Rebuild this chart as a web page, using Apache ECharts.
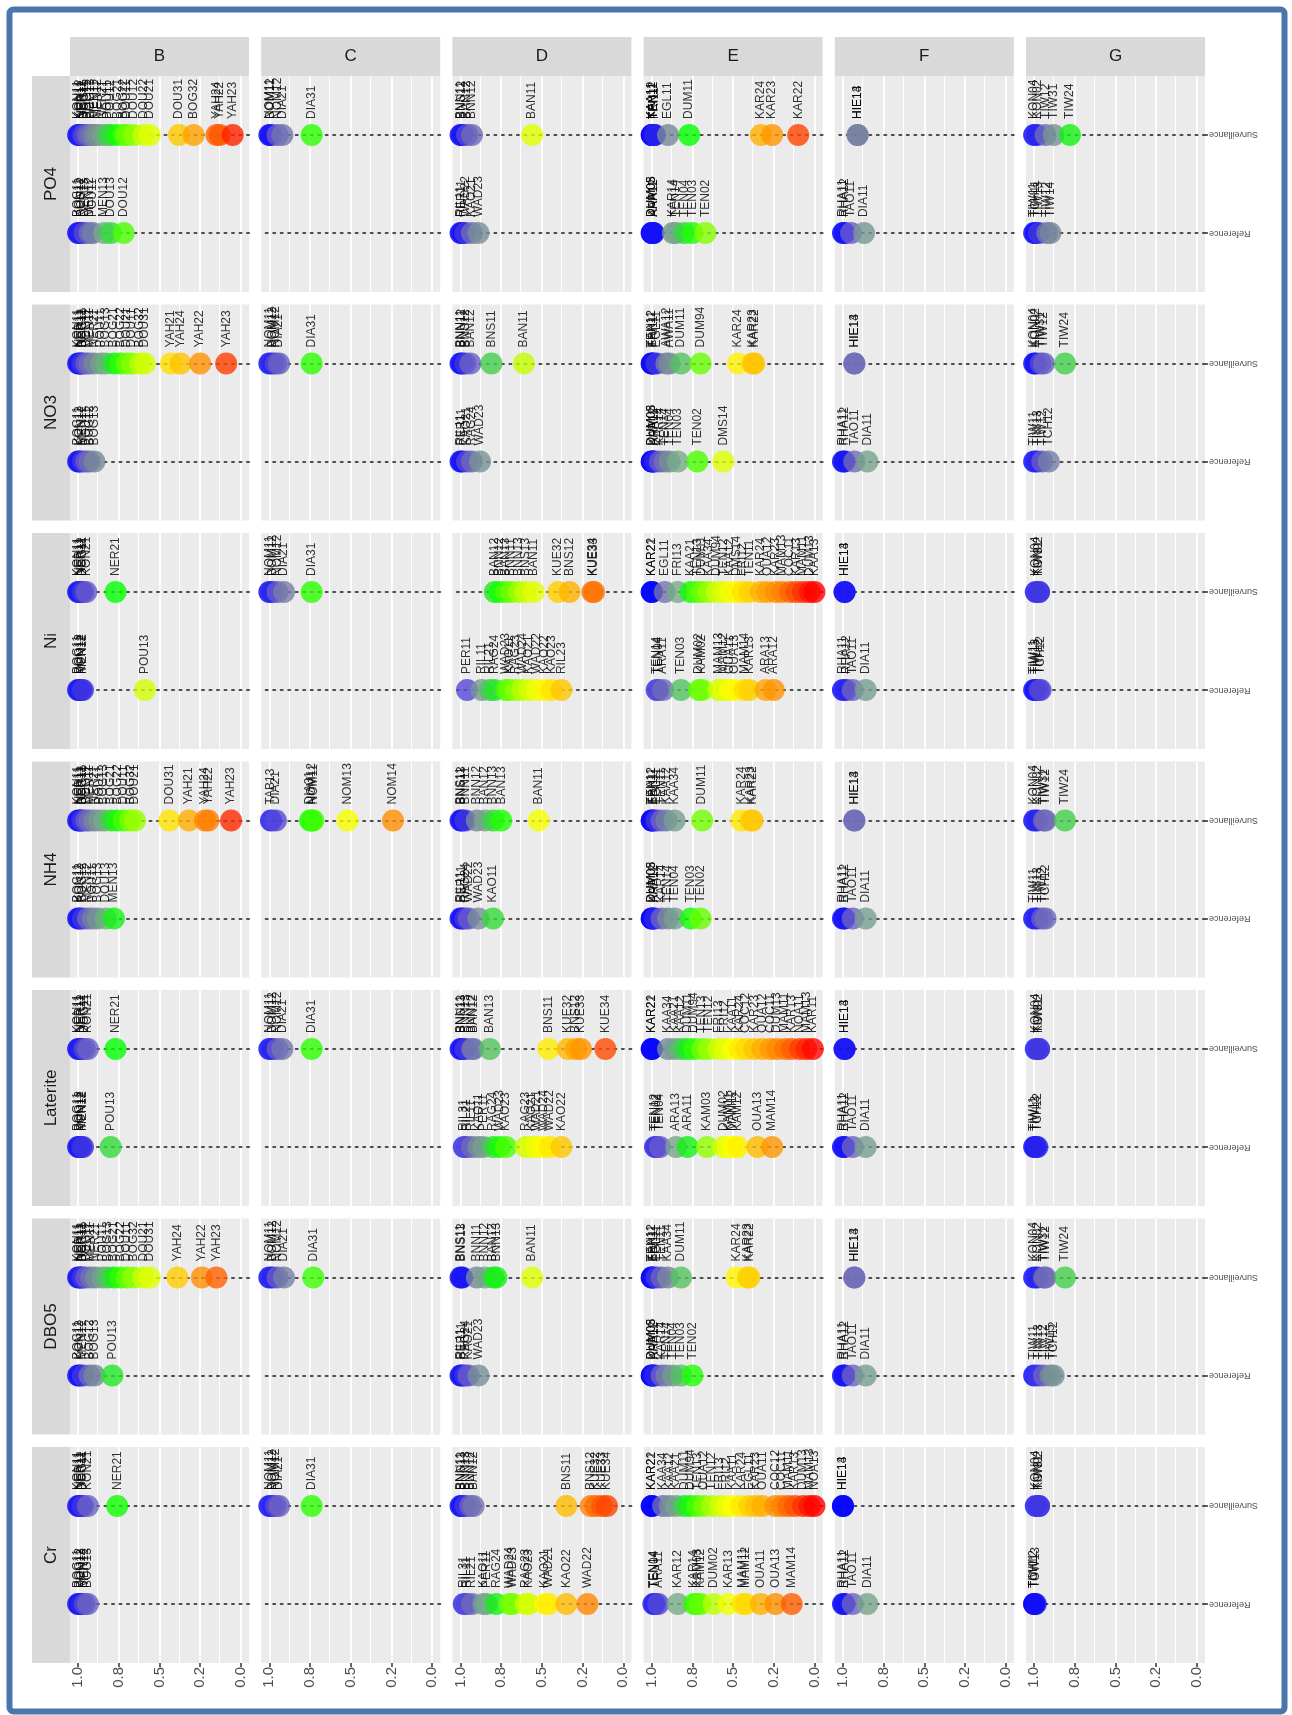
<!DOCTYPE html>
<html>
<head>
<meta charset="utf-8">
<script src="https://cdn.jsdelivr.net/npm/echarts@6/dist/echarts.min.js"></script>
<style>
html, body { margin: 0; padding: 0; background: #fff; }
#main { width: 1292px; height: 1715px; }
</style>
</head>
<body>
<div id="main"></div>
<script>
// facets
var rows = ['PO4', 'NO3', 'Ni', 'NH4', 'Laterite', 'DBO5', 'Cr'];
var cols = ['B', 'C', 'D', 'E', 'F', 'G'];
var cats = ['Reference', 'Surveillance'];
var tickValues = [0, 0.25, 0.5, 0.75, 1];
var tickLabels = ['0.0', '0.2', '0.5', '0.8', '1.0'];
var gridValues = [0, 0.125, 0.25, 0.375, 0.5, 0.625, 0.75, 0.875, 1];

// [site, score]  (_sur = Surveillance, _ref = Reference)
var PO4_B_sur = [['KON11',1.0],['KON12',0.99],['NER11',0.98],['NER12',0.97],['BOG11',0.96],['BOG12',0.94],['BOG13',0.92],['MEN11',0.90],['MEN12',0.88],['NER21',0.85],['POU11',0.82],['POU12',0.80],['BOG21',0.76],['BOG22',0.72],['DOU11',0.70],['DOU12',0.66],['DOU22',0.60],['DOU21',0.56],['DOU31',0.38],['BOG32',0.29],['YAH24',0.15],['YAH22',0.13],['YAH23',0.05]];
var PO4_B_ref = [['BOG11',1.0],['KON12',0.99],['BOG12',0.98],['NER13',0.96],['MEN12',0.93],['POU11',0.91],['MEN13',0.84],['DOU13',0.80],['DOU12',0.72]];
var PO4_C_sur = [['NOM11',1.0],['BOM12',0.99],['NOM12',0.95],['DIA21',0.92],['DIA31',0.74]];
var PO4_C_ref = [];
var PO4_D_sur = [['BNN11',1.0],['BNS12',0.99],['BAN12',0.96],['BNN12',0.93],['BAN11',0.56]];
var PO4_D_ref = [['RIL11',1.0],['PER11',0.99],['WAD22',0.97],['KAO21',0.93],['WAD23',0.89]];
var PO4_E_sur = [['KAA11',1.0],['KAA12',1.0],['TEN11',0.99],['TEN12',0.99],['FRI11',0.98],['EGL11',0.90],['DUM11',0.77],['KAR24',0.33],['KAR23',0.26],['KAR22',0.10]];
var PO4_E_ref = [['DUM03',1.0],['DUM05',1.0],['KAR12',0.99],['ARA11',0.99],['KAR14',0.87],['TEN14',0.85],['TEN04',0.80],['TEN03',0.75],['TEN02',0.67]];
var PO4_F_sur = [['HIE13',0.91],['HIE14',0.91]];
var PO4_F_ref = [['RHA11',1.0],['RHA12',0.99],['TAO11',0.95],['DIA11',0.87]];
var PO4_G_sur = [['KON04',1.0],['KON02',0.98],['TIW12',0.93],['TIW31',0.88],['TIW24',0.78]];
var PO4_G_ref = [['TIW11',1.0],['TCH11',0.99],['TIW13',0.97],['TIW12',0.92],['TIW14',0.90]];

var NO3_B_sur = [['KON11',1.0],['NER11',0.99],['NER12',0.98],['BOG11',0.97],['BOG12',0.95],['MEN11',0.93],['NER21',0.90],['POU11',0.86],['BOG13',0.83],['BOG21',0.78],['BOG22',0.74],['DOU21',0.70],['DOU11',0.67],['BOG32',0.62],['DOU31',0.59],['YAH21',0.43],['YAH24',0.37],['YAH22',0.25],['YAH23',0.09]];
var NO3_B_ref = [['BOG11',1.0],['KON12',0.99],['MEN12',0.97],['POU11',0.95],['BOG12',0.93],['BOG13',0.90]];
var NO3_C_sur = [['NOM11',1.0],['BOM12',0.98],['NOM12',0.96],['DIA21',0.94],['DIA31',0.74]];
var NO3_C_ref = [];
var NO3_D_sur = [['BNN11',1.0],['BNN12',0.99],['BNS12',0.97],['BAN12',0.94],['BNS11',0.81],['BAN11',0.61]];
var NO3_D_ref = [['RIL11',1.0],['PER11',0.99],['KAO21',0.96],['RAG24',0.93],['WAD23',0.88]];
var NO3_E_sur = [['KAA11',1.0],['TEN12',1.0],['FRI11',0.99],['EGL11',0.97],['AWA12',0.91],['AWA11',0.89],['DUM11',0.82],['DUM94',0.70],['KAR24',0.47],['KAR23',0.38],['KAR22',0.37]];
var NO3_E_ref = [['DUM03',1.0],['DUM05',1.0],['KAR12',0.99],['ARA11',0.98],['KAR14',0.95],['TEN14',0.92],['TEN04',0.89],['TEN03',0.84],['TEN02',0.72],['DMS14',0.56]];
var NO3_F_sur = [['HIE13',0.93],['HIE14',0.93]];
var NO3_F_ref = [['RHA11',1.0],['RHA12',0.99],['TAO11',0.93],['DIA11',0.85]];
var NO3_G_sur = [['KON04',1.0],['KON02',0.99],['TIW31',0.96],['TIW12',0.94],['TIW24',0.81]];
var NO3_G_ref = [['TIW11',1.0],['TIW13',0.98],['TIW12',0.95],['TCH12',0.91]];

var Ni_B_sur = [['KON11',1.0],['NER11',0.99],['NER12',0.98],['BOG11',0.97],['KON21',0.95],['NER21',0.77]];
var Ni_B_ref = [['BOG11',1.0],['BOG12',0.99],['KON12',0.98],['MEN12',0.97],['POU13',0.59]];
var Ni_C_sur = [['NOM11',1.0],['BOM12',0.98],['NOM12',0.95],['DIA21',0.91],['DIA31',0.74]];
var Ni_C_ref = [];
var Ni_D_sur = [['BAN12',0.79],['BNN12',0.76],['BAN13',0.72],['BNN11',0.69],['BNN13',0.64],['BNS13',0.60],['BAN11',0.55],['KUE32',0.40],['BNS12',0.33],['KUE34',0.19],['KUE33',0.18]];
var Ni_D_ref = [['PER11',0.96],['RIL11',0.87],['RIL21',0.82],['RAG24',0.79],['WAD23',0.72],['KAO11',0.70],['RAG23',0.66],['WAD24',0.62],['KAO21',0.58],['WAD22',0.53],['KAO22',0.48],['KAO23',0.44],['RIL23',0.38]];
var Ni_E_sur = [['KAR21',1.0],['KAR22',1.0],['EGL11',0.92],['FRI13',0.84],['KAA21',0.76],['TEN13',0.72],['DUM11',0.69],['KAA34',0.65],['DUM94',0.60],['TEN12',0.56],['KAA12',0.52],['DMS14',0.48],['FRI12',0.44],['TEN11',0.40],['KAR24',0.33],['OUA12',0.29],['KAR23',0.24],['MAM13',0.20],['COC11',0.15],['KAR13',0.11],['MAM11',0.07],['DUM13',0.03],['KAA13',0.0]];
var Ni_E_ref = [['TEN14',0.97],['TEN04',0.96],['ARA11',0.93],['TEN03',0.82],['DUM02',0.71],['KAM02',0.69],['MAM13',0.59],['MAM12',0.56],['OUA11',0.52],['OUA13',0.49],['MAM14',0.43],['KAR13',0.40],['ARA13',0.30],['ARA12',0.25]];
var Ni_F_sur = [['HIE13',0.99],['HIE14',0.99]];
var Ni_F_ref = [['RHA11',1.0],['RHA12',0.98],['TAO11',0.94],['DIA11',0.86]];
var Ni_G_sur = [['KON04',0.99],['KON02',0.97],['TIW31',0.97]];
var Ni_G_ref = [['TIW11',1.0],['TIW13',0.99],['TIW12',0.97],['TCH12',0.96]];

var NH4_B_sur = [['KON11',1.0],['NER11',0.99],['NER12',0.98],['BOG11',0.97],['BOG12',0.95],['MEN11',0.93],['NER21',0.90],['POU11',0.87],['BOG13',0.84],['BOG21',0.80],['BOG22',0.76],['DOU11',0.72],['BOG32',0.68],['DOU21',0.65],['DOU31',0.44],['YAH21',0.32],['YAH24',0.22],['YAH22',0.20],['YAH23',0.06]];
var NH4_B_ref = [['BOG11',1.0],['KON12',0.99],['BOG12',0.97],['MEN12',0.94],['POU11',0.91],['BOG13',0.88],['DOU13',0.83],['MEN13',0.78]];
var NH4_C_sur = [['TAB13',0.99],['DIA21',0.96],['DIA31',0.75],['NOM12',0.74],['NOM11',0.73],['NOM13',0.52],['NOM14',0.24]];
var NH4_C_ref = [];
var NH4_D_sur = [['BNS11',1.0],['BNS13',0.99],['BNN11',0.97],['BNN12',0.90],['BAN12',0.85],['BNN13',0.80],['BAN13',0.75],['BAN11',0.52]];
var NH4_D_ref = [['RIL11',1.0],['PER11',0.99],['RAG24',0.97],['WAD22',0.95],['WAD23',0.89],['KAO11',0.80]];
var NH4_E_sur = [['KAA11',1.0],['TEN12',1.0],['FRI11',0.99],['EGL11',0.97],['TEN11',0.94],['KAA12',0.91],['KAA34',0.86],['DUM11',0.69],['KAR24',0.45],['KAR23',0.39],['KAR22',0.38]];
var NH4_E_ref = [['DUM03',1.0],['DUM05',1.0],['KAR12',0.99],['ARA11',0.98],['KAR14',0.94],['TEN14',0.90],['TEN04',0.86],['TEN03',0.76],['TEN02',0.70]];
var NH4_F_sur = [['HIE13',0.93],['HIE14',0.93]];
var NH4_F_ref = [['RHA11',1.0],['RHA12',0.99],['TAO11',0.94],['DIA11',0.86]];
var NH4_G_sur = [['KON04',1.0],['KON02',0.98],['TIW31',0.94],['TIW12',0.93],['TIW24',0.81]];
var NH4_G_ref = [['TIW11',1.0],['TIW13',0.98],['TIW12',0.95],['TCH12',0.93]];

var Laterite_B_sur = [['KON11',1.0],['NER11',0.99],['NER12',0.98],['BOG11',0.96],['KON21',0.94],['NER21',0.77]];
var Laterite_B_ref = [['BOG11',1.0],['BOG12',0.99],['KON12',0.98],['MEN12',0.97],['POU13',0.80]];
var Laterite_C_sur = [['NOM11',1.0],['BOM12',0.98],['NOM12',0.95],['DIA21',0.92],['DIA31',0.74]];
var Laterite_C_ref = [];
var Laterite_D_sur = [['BNN11',1.0],['BNS13',0.99],['BNN13',0.97],['BNN12',0.93],['BAN12',0.92],['BAN13',0.82],['BNS11',0.46],['KUE32',0.34],['BNS12',0.29],['KUE33',0.26],['KUE34',0.11]];
var Laterite_D_ref = [['RIL31',0.98],['RIL21',0.96],['RIL11',0.93],['KAO11',0.89],['PER11',0.86],['RAG24',0.80],['WAD23',0.76],['KAO23',0.72],['RAG23',0.60],['KAO21',0.56],['WAD21',0.53],['WAD24',0.49],['WAD22',0.45],['KAO22',0.38]];
var Laterite_E_sur = [['KAR21',1.0],['KAR22',1.0],['KAA34',0.90],['KAA21',0.86],['KAA12',0.82],['DUM11',0.78],['DUM94',0.74],['TEN13',0.69],['TEN12',0.65],['FRI13',0.59],['FRI12',0.55],['KAA11',0.50],['KAR24',0.46],['COC12',0.42],['KAR23',0.37],['OUA12',0.32],['COC11',0.27],['DUM13',0.23],['MAM11',0.18],['KAR13',0.14],['NOA11',0.09],['MAM13',0.05],['KAR11',0.01]];
var Laterite_E_ref = [['TEN12',0.98],['TEN02',0.97],['TEN04',0.95],['ARA13',0.85],['ARA11',0.78],['KAM03',0.66],['DUM02',0.56],['KAM11',0.53],['MAM12',0.50],['KAM12',0.47],['OUA13',0.35],['MAM14',0.26]];
var Laterite_F_sur = [['HIE13',0.99],['HIE14',0.99]];
var Laterite_F_ref = [['RHA11',1.0],['RHA12',0.99],['TAO11',0.94],['DIA11',0.86]];
var Laterite_G_sur = [['KON04',0.99],['KON02',0.97],['TIW31',0.97]];
var Laterite_G_ref = [['TIW11',1.0],['TIW13',0.99],['TCH12',0.98]];

var DBO5_B_sur = [['KON11',1.0],['NER11',0.99],['NER12',0.98],['BOG11',0.97],['BOG12',0.95],['MEN11',0.92],['NER21',0.89],['POU11',0.85],['BOG13',0.82],['BOG21',0.78],['BOG22',0.74],['DOU11',0.70],['BOG32',0.66],['DOU21',0.60],['DOU31',0.56],['YAH24',0.39],['YAH22',0.24],['YAH23',0.15]];
var DBO5_B_ref = [['BOG11',1.0],['KON12',0.99],['MEN12',0.97],['BOG12',0.93],['BOG13',0.90],['POU13',0.79]];
var DBO5_C_sur = [['NOM11',1.0],['BOM12',0.98],['NOM12',0.95],['DIA21',0.91],['DIA31',0.73]];
var DBO5_C_ref = [];
var DBO5_D_sur = [['BNS11',1.0],['BNS13',0.99],['BNN11',0.90],['BNN12',0.85],['BAN12',0.80],['BNN13',0.78],['BAN11',0.56]];
var DBO5_D_ref = [['RIL11',1.0],['PER11',0.99],['RAG24',0.97],['KAO21',0.95],['WAD23',0.89]];
var DBO5_E_sur = [['KAA11',1.0],['TEN12',1.0],['FRI11',0.99],['EGL11',0.97],['TEN11',0.94],['KAA34',0.90],['DUM11',0.82],['KAR24',0.48],['KAR23',0.41],['KAR22',0.40]];
var DBO5_E_ref = [['DUM03',1.0],['DUM05',1.0],['KAR12',0.99],['ARA11',0.98],['KAR14',0.94],['TEN14',0.91],['TEN04',0.87],['TEN03',0.82],['TEN02',0.75]];
var DBO5_F_sur = [['HIE13',0.93],['HIE14',0.93]];
var DBO5_F_ref = [['RHA11',1.0],['RHA12',0.99],['TAO11',0.94],['DIA11',0.86]];
var DBO5_G_sur = [['KON04',1.0],['KON02',0.98],['TIW31',0.94],['TIW12',0.93],['TIW24',0.81]];
var DBO5_G_ref = [['TIW11',1.0],['TIW13',0.97],['TIW12',0.94],['TIW15',0.90],['TCH12',0.88]];

var Cr_B_sur = [['KON11',1.0],['NER11',0.99],['NER12',0.98],['BOG11',0.97],['KON21',0.94],['NER21',0.76]];
var Cr_B_ref = [['BOG11',1.0],['BOG12',0.99],['KON12',0.98],['MEN12',0.96],['BOG13',0.94]];
var Cr_C_sur = [['NOM11',1.0],['BOM12',0.98],['NOM12',0.96],['DIA21',0.94],['DIA31',0.74]];
var Cr_C_ref = [];
var Cr_D_sur = [['BNN11',1.0],['BNS13',0.99],['BNN13',0.97],['BNN12',0.94],['BAN12',0.92],['BNS11',0.35],['BNS12',0.20],['KUE32',0.17],['KUE33',0.13],['KUE34',0.10]];
var Cr_D_ref = [['RIL31',0.98],['RIL11',0.96],['RIL21',0.93],['KAO11',0.86],['PER11',0.84],['RAG24',0.78],['WAD24',0.70],['WAD23',0.68],['RAG23',0.60],['KAO23',0.58],['KAO21',0.48],['WAD21',0.46],['KAO22',0.35],['WAD22',0.22]];
var Cr_E_sur = [['KAR21',1.0],['KAR22',1.0],['KAA34',0.93],['KAA12',0.89],['KAA21',0.85],['DUM11',0.80],['DUM94',0.76],['TEN13',0.72],['OUA12',0.68],['TEN12',0.63],['FRI13',0.58],['FRI12',0.54],['KAA11',0.50],['KAR24',0.45],['EGL11',0.40],['KAR23',0.36],['OUA11',0.32],['COC12',0.24],['COC11',0.20],['MAM11',0.16],['KAR13',0.12],['DUM13',0.07],['MAM13',0.03],['NOA13',0.0]];
var Cr_E_ref = [['TEN14',0.99],['TEN04',0.98],['ARA11',0.96],['KAR12',0.84],['KAR14',0.74],['KAM03',0.72],['KAM12',0.70],['DUM02',0.62],['KAR13',0.53],['MAM11',0.44],['MAM12',0.42],['OUA11',0.33],['OUA13',0.24],['MAM14',0.14]];
var Cr_F_sur = [['HIE13',1.0],['HIE14',1.0]];
var Cr_F_ref = [['RHA11',1.0],['RHA12',0.99],['TAO11',0.94],['DIA11',0.85]];
var Cr_G_sur = [['KON04',0.99],['KON02',0.97],['TIW31',0.97]];
var Cr_G_ref = [['TIW11',1.0],['TCH12',1.0],['TOW13',0.99]];

// colour ramp for the score (red = 0 ... blue = 1)
var colorStops = [[0,'#FF0000'],[0.1,'#FF4500'],[0.2,'#FF7F00'],[0.3,'#FFA500'],[0.4,'#FFD000'],[0.5,'#FFFF00'],
                  [0.6,'#CCFF00'],[0.7,'#66FF00'],[0.77,'#00FF00'],[0.84,'#77AA88'],[0.9,'#778899'],[0.95,'#6A5ACD'],[1,'#0000FF']];
function hexRgb(h){ return [parseInt(h.substr(1,2),16), parseInt(h.substr(3,2),16), parseInt(h.substr(5,2),16)]; }
function colorOf(v){
  for (var n = 1; n < colorStops.length; n++) {
    if (v <= colorStops[n][0]) {
      var a = colorStops[n-1], b = colorStops[n];
      var t = (v - a[0]) / (b[0] - a[0]);
      var ca = hexRgb(a[1]), cb = hexRgb(b[1]);
      return 'rgb(' + [0,1,2].map(function(q){ return Math.round(ca[q] + (cb[q]-ca[q])*t); }).join(',') + ')';
    }
  }
  return colorStops[colorStops.length-1][1];
}

var FONT = 'Liberation Sans, Arial, sans-serif';
var panelW = 179, panelH = 216, left0 = 70, top0 = 76, stepX = 191.2, stepY = 228.5;
var expX = 0.05, expY = 0.6;   // ggplot style expansion

var myChart = echarts.init(document.getElementById('main'));
var grids = [], xAxes = [], yAxes = [], series = [], graphics = [];

rows.forEach(function(r, j){
  var top = top0 + j*stepY;
  cols.forEach(function(c, i){
    var left = left0 + i*stepX;
    var k = grids.length;
    grids.push({left: left, top: top, width: panelW, height: panelH, show: true, backgroundColor: '#EBEBEB', borderWidth: 0});
    xAxes.push({gridIndex: k, type: 'value', min: -expX, max: 1 + expX, inverse: true, show: false});
    yAxes.push({gridIndex: k, type: 'value', min: 1 - expY, max: 2 + expY, show: false});

    var pts = [];
    cats.forEach(function(cat, ci){
      var list = window[r + '_' + c + '_' + (ci ? 'sur' : 'ref')];
      list.forEach(function(d){
        pts.push({value: [d[1], ci + 1, d[0]], itemStyle: {color: colorOf(d[1])}});
      });
    });

    var lines = gridValues.map(function(v, n){
      return {xAxis: v, lineStyle: {color: '#fff', width: n % 2 === 0 ? 1.8 : 1, type: 'solid'}};
    });
    cats.forEach(function(cat, ci){
      lines.push({yAxis: ci + 1, lineStyle: {color: '#4D4D4D', width: 2, type: [2, 5.5], cap: 'round'}});
    });

    series.push({
      type: 'scatter', xAxisIndex: k, yAxisIndex: k, z: 1, silent: true, symbolSize: 0,
      data: pts.map(function(p){ return [p.value[0], p.value[1]]; }),
      markLine: {silent: true, z: 1, symbol: ['none', 'none'], label: {show: false}, animation: false, data: lines}
    });
    series.push({
      type: 'scatter', xAxisIndex: k, yAxisIndex: k, z: 3, symbolSize: 22, clip: false, animation: false,
      itemStyle: {opacity: 0.8},
      label: {
        show: true, position: 'top', distance: 5, rotate: 90, align: 'left', verticalAlign: 'middle',
        fontSize: 12, fontFamily: FONT, color: '#000',
        formatter: function(p){ return p.value[2]; }
      },
      data: pts
    });
  });

  // row strip
  graphics.push({type: 'rect', shape: {x: 32, y: top, width: left0 - 32, height: panelH}, style: {fill: '#D9D9D9'}});
  graphics.push({type: 'text', x: 51, y: top + panelH/2, rotation: Math.PI/2,
    style: {text: r, fill: '#1A1A1A', font: '17px ' + FONT, align: 'center', verticalAlign: 'middle', textAlign: 'center', textVerticalAlign: 'middle'}});

  // right side category labels
  var kr = grids.length;
  grids.push({left: left0 + 5*stepX + panelW - 1, width: 1, top: top + panelH*expY/(1 + 2*expY), height: panelH/(1 + 2*expY)});
  xAxes.push({gridIndex: kr, type: 'value', show: false});
  yAxes.push({gridIndex: kr, type: 'value', min: 1, max: 2, interval: 1, position: 'right',
    axisLine: {show: false}, splitLine: {show: false},
    axisTick: {show: true, length: 4, lineStyle: {color: '#333', width: 1.5}},
    axisLabel: {rotate: 180, fontSize: 9, color: '#4D4D4D', fontFamily: FONT, margin: 4,
      formatter: function(v){ return cats[v - 1]; }}});
});

// column strips and bottom tick labels
cols.forEach(function(c, i){
  var left = left0 + i*stepX;
  graphics.push({type: 'rect', shape: {x: left, y: 37, width: panelW, height: top0 - 37}, style: {fill: '#D9D9D9'}});
  graphics.push({type: 'text', x: left + panelW/2, y: (37 + top0)/2,
    style: {text: c, fill: '#1A1A1A', font: '17px ' + FONT, align: 'center', verticalAlign: 'middle', textAlign: 'center', textVerticalAlign: 'middle'}});

  var kb = grids.length;
  var inner = panelW / (1 + 2*expX);
  grids.push({left: left + inner*expX, width: inner, top: top0 + (rows.length - 1)*stepY + panelH - 1, height: 1});
  xAxes.push({gridIndex: kb, type: 'value', min: 0, max: 1, interval: 0.25, inverse: true,
    axisLine: {show: false}, splitLine: {show: false},
    axisTick: {show: true, length: 4, lineStyle: {color: '#333', width: 1.5}},
    axisLabel: {rotate: 90, fontSize: 15, color: '#4D4D4D', fontFamily: FONT, margin: 4,
      formatter: function(v){ return tickLabels[tickValues.indexOf(v)]; }}});
  yAxes.push({gridIndex: kb, type: 'value', show: false});
});

// outer frame
graphics.push({type: 'rect', shape: {x: 9.5, y: 9.5, width: 1275, height: 1702, r: 4},
  style: {fill: 'none', stroke: '#4A76AC', lineWidth: 6}, z: 100});

var option = {
  backgroundColor: '#fff',
  animation: false,
  grid: grids,
  xAxis: xAxes,
  yAxis: yAxes,
  series: series,
  graphic: {elements: graphics}
};
myChart.setOption(option);
</script>
</body>
</html>
